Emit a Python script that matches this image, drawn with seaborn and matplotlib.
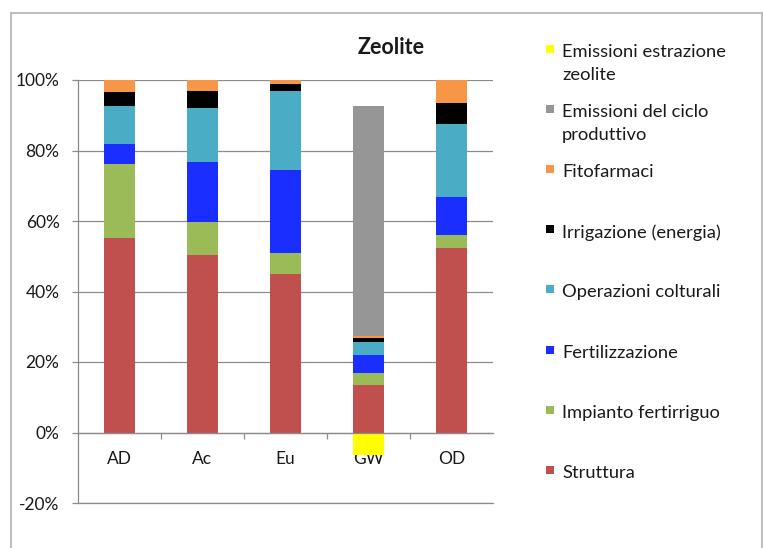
import matplotlib
matplotlib.use("Agg")
import matplotlib.pyplot as plt
from matplotlib.patches import Rectangle
from matplotlib.ticker import PercentFormatter, FixedLocator
import seaborn as sns
import pandas as pd
import numpy as np

# ---------------- data ----------------
categories = ["AD", "Ac", "Eu", "GW", "OD"]
title = "Zeolite"

# stacking order bottom -> top (positive components)
struttura = [0.551, 0.504, 0.449, 0.135, 0.523]
impianto_fertirriguo = [0.211, 0.092, 0.061, 0.033, 0.038]
fertilizzazione = [0.057, 0.170, 0.234, 0.052, 0.107]
operazioni_colturali = [0.106, 0.154, 0.225, 0.038, 0.208]
irrigazione_energia = [0.041, 0.050, 0.019, 0.009, 0.060]
fitofarmaci = [0.035, 0.030, 0.011, 0.006, 0.064]
emissioni_ciclo = [0.0, 0.0, 0.0, 0.652, 0.0]
# negative component
emissioni_estrazione = [0.0, 0.0, 0.0, -0.065, 0.0]

series_names = ["Struttura", "Impianto fertirriguo", "Fertilizzazione",
                "Operazioni colturali", "Irrigazione (energia)", "Fitofarmaci",
                "Emissioni del ciclo produttivo"]
series_values = [struttura, impianto_fertirriguo, fertilizzazione,
                 operazioni_colturali, irrigazione_energia, fitofarmaci,
                 emissioni_ciclo]
series_colors = ["#C0504D", "#9BBB59", "#1A2EFF", "#4BACC6", "#000000",
                 "#F79646", "#969696"]
neg_name = "Emissioni estrazione zeolite"
neg_color = "#FFFF00"

# legend order (top -> bottom) as in reference
legend_labels = ["Emissioni estrazione\nzeolite", "Emissioni del ciclo\nproduttivo",
                 "Fitofarmaci", "Irrigazione (energia)", "Operazioni colturali",
                 "Fertilizzazione", "Impianto fertirriguo", "Struttura"]
legend_colors = [neg_color, "#969696", "#F79646", "#000000", "#4BACC6",
                 "#1A2EFF", "#9BBB59", "#C0504D"]

# ---------------- figure ----------------
sns.set_theme(style="white")
plt.rcParams["font.family"] = ["Lato", "DejaVu Sans"]
plt.rcParams["axes.unicode_minus"] = False

W, H = 763, 548
fig = plt.figure(figsize=(W / 100, H / 100), dpi=100)
fig.patch.set_facecolor("white")

ax = fig.add_axes([78 / W, 1 - 503 / H, (493 - 78) / W, (503 - 80) / H])

# cumulative stacks, drawn from the top layer down so that each overlays
cum = np.cumsum(np.array(series_values), axis=0)
for i in range(len(series_names) - 1, -1, -1):
    df = pd.DataFrame({"cat": categories, "val": cum[i]})
    sns.barplot(data=df, x="cat", y="val", color=series_colors[i],
                saturation=1, width=0.37, ax=ax, errorbar=None,
                linewidth=0, order=categories)

df_neg = pd.DataFrame({"cat": categories, "val": emissioni_estrazione})
sns.barplot(data=df_neg, x="cat", y="val", color=neg_color, saturation=1,
            width=0.37, ax=ax, errorbar=None, linewidth=0, order=categories)

ax.set_ylim(-0.2, 1.0)
ax.set_xlim(-0.5, len(categories) - 0.5)
ax.set_yticks(np.arange(-0.2, 1.01, 0.2))
ax.yaxis.set_major_formatter(PercentFormatter(1.0, decimals=0))
ax.set_xlabel("")
ax.set_ylabel("")

grid_color = "#8C8C8C"
ax.grid(axis="y", color=grid_color, linewidth=0.9)
ax.set_axisbelow(True)
ax.axhline(-0.2, color=grid_color, linewidth=0.9, clip_on=False, zorder=0.5)

for s in ["top", "right"]:
    ax.spines[s].set_visible(False)
ax.spines["left"].set_color(grid_color)
ax.spines["left"].set_linewidth(0.9)
ax.spines["bottom"].set_position(("data", 0))
ax.spines["bottom"].set_color(grid_color)
ax.spines["bottom"].set_linewidth(0.9)
ax.spines["bottom"].set_zorder(5)

ax.tick_params(axis="y", which="major", direction="out", length=4.3,
               width=0.9, color=grid_color, pad=9, labelsize=12.5,
               labelcolor="#1a1a1a", left=True)
ax.tick_params(axis="x", which="major", length=0, pad=13, labelsize=12.5,
               labelcolor="#1a1a1a", bottom=True)
ax.xaxis.set_minor_locator(FixedLocator(np.arange(0.5, len(categories) - 0.5, 1)))
ax.tick_params(axis="x", which="minor", direction="out", length=4,
               width=0.9, color=grid_color, bottom=True)

# title
fig.text(391 / W, 1 - 47 / H, title, ha="center", va="center",
         fontsize=15.5, fontweight="bold", color="#1a1a1a")

# legend (manual, Excel-style, first line aligned with marker)
for i, (lab, col) in enumerate(zip(legend_labels, legend_colors)):
    y1 = 52 + i * 60.1
    fig.patches.append(Rectangle((546 / W, 1 - (y1 + 1) / H), 8 / W, 8 / H,
                                 transform=fig.transFigure, facecolor=col,
                                 edgecolor="none"))
    fig.text(562 / W, 1 - (y1 - 8) / H, lab, ha="left", va="top",
             fontsize=13.2, color="#1a1a1a", linespacing=1.5)

# outer chart border
fig.patches.append(Rectangle((11 / W, -0.05), (762 - 11) / W, 1.05 - 13 / H,
                             transform=fig.transFigure, facecolor="none",
                             edgecolor="#BFBFBF", linewidth=1.5))

fig.savefig("out.png", dpi=100)
